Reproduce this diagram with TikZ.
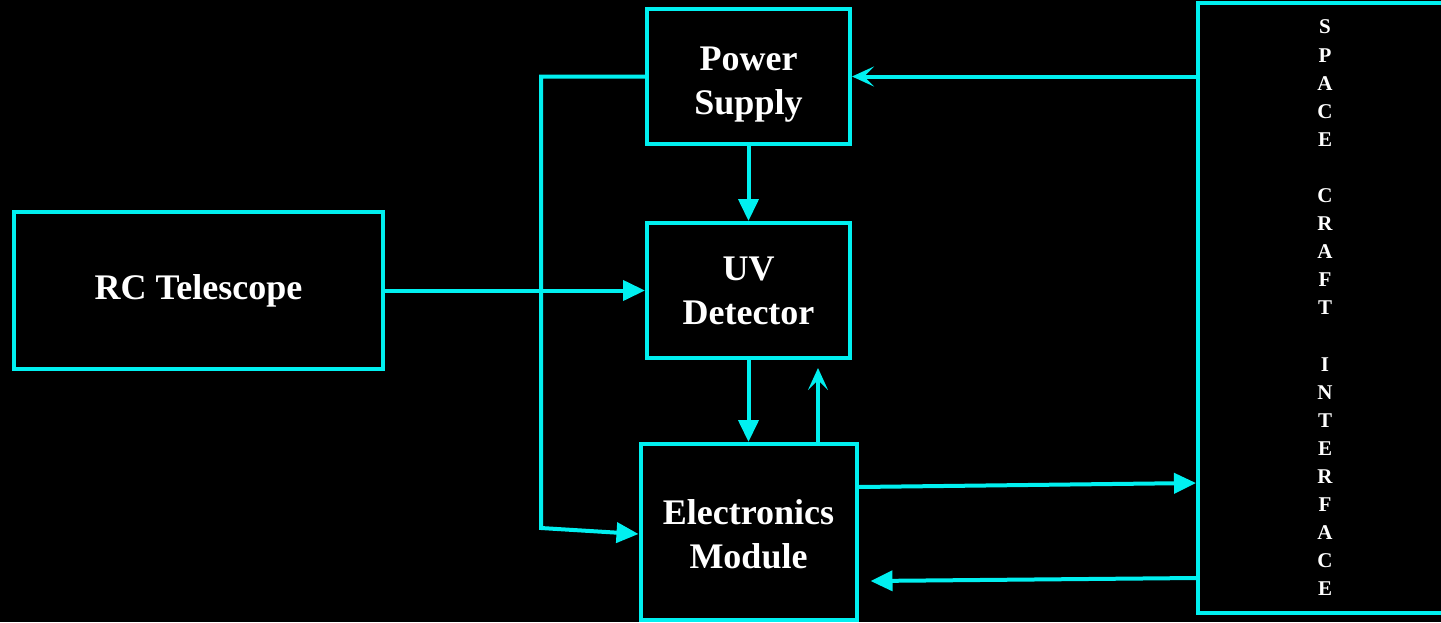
\documentclass[tikz,border=0pt]{standalone}
\usepackage{fontspec}
\setmainfont{Liberation Serif}
\usetikzlibrary{arrows.meta,positioning,calc}
\definecolor{linecyan}{RGB}{0,240,240}

\begin{document}
\begin{tikzpicture}[
    x=0.5pt, y=0.5pt,
    block/.style={draw=linecyan, line width=2pt, align=center, text=white, font=\fontsize{18}{22}\selectfont\bfseries, inner sep=0pt},
    flow/.style={draw=linecyan, -{Triangle[length=11pt,width=10pt]}, line width=2pt},
    back/.style={draw=linecyan, -{Stealth[length=11pt,width=10pt,inset=5pt]}, line width=2pt}
]
\useasboundingbox[fill=black] (0,0) rectangle (1441,-622);

\node[block, minimum width=184.5pt, minimum height=78.5pt] (rc) at (198.5,-290.5) {RC Telescope};
\node[block, minimum width=101.5pt, minimum height=67.5pt] (ps) at (748.5,-76.5) {\rule{0pt}{20pt}Power\\Supply};
\node[block, minimum width=101.5pt, minimum height=67.5pt] (uv) at (748.5,-290.5) {UV\\Detector};
\node[block, minimum width=108pt, minimum height=88pt] (em) at (748.5,-532) {\rule{0pt}{15pt}Electronics\\Module};
\node[block, minimum width=127pt, minimum height=305pt, font=\fontsize{10.5}{14.05}\selectfont\bfseries] (sc) at (1325,-308)
    {S\\P\\A\\C\\E\\~\\C\\R\\A\\F\\T\\~\\I\\N\\T\\E\\R\\F\\A\\C\\E};

\coordinate (bus) at (541,-528);
\coordinate (uvret) at (818,-368);

\draw[flow] (rc.east) -- (uv.west);
\draw[flow] (ps.south) -- (uv.north);
\draw[flow] (uv.south) -- (em.north);
\draw[back] (em.north -| uvret) -- (uvret);
\draw[flow] (ps.west) -| (bus) -- ([yshift=-1pt]em.west);
\draw[back] (sc.west |- ps.east) -- (ps.east);
\draw[flow] ([yshift=22.5pt]em.east) -- ([yshift=-87.5pt]sc.west);
\draw[flow] ([yshift=-135pt]sc.west) -- ([xshift=6pt,yshift=-24.5pt]em.east);
\end{tikzpicture}
\end{document}
